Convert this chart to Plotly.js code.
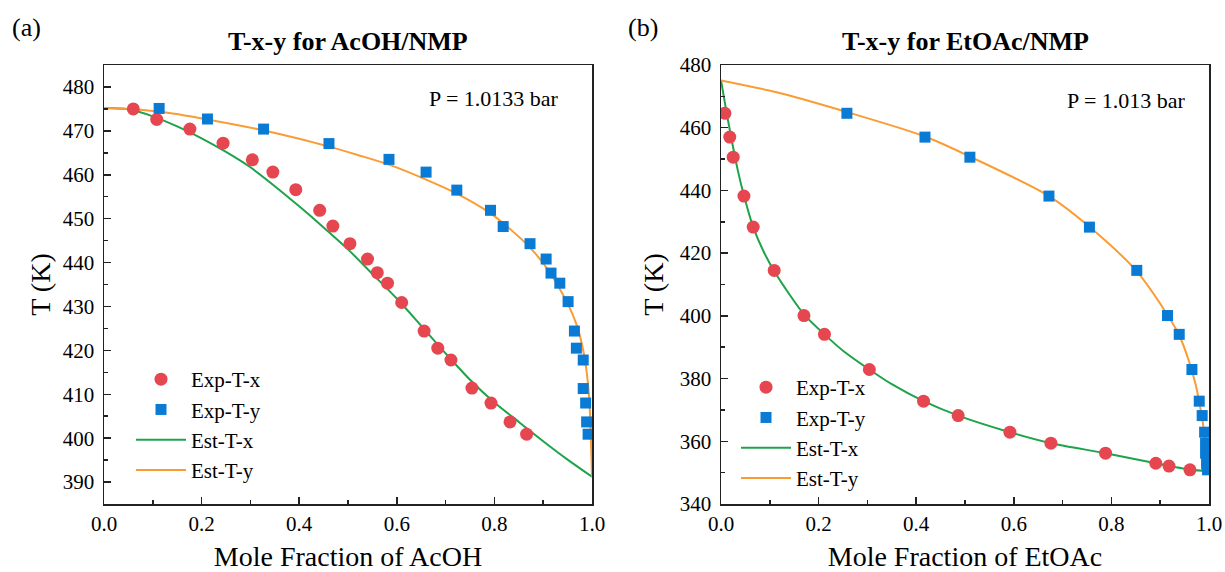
<!DOCTYPE html>
<html>
<head>
<meta charset="utf-8">
<script src="https://cdn.plot.ly/plotly-3.0.1.min.js"></script>
<style>html,body{margin:0;padding:0;background:#fff;}#chart{width:1225px;height:572px;}</style>
</head>
<body>
<div id="chart"></div>
<script>
// ---------- Data: panel (a) AcOH/NMP ----------
const a_expX_x = [0.060,0.108,0.176,0.244,0.304,0.346,0.393,0.442,0.469,0.504,0.540,0.560,0.581,0.610,0.656,0.684,0.711,0.754,0.793,0.832,0.866];
const a_expX_T = [475.0,472.6,470.4,467.2,463.4,460.6,456.6,451.9,448.3,444.3,440.8,437.7,435.3,430.9,424.4,420.5,417.8,411.4,408.0,403.7,400.9];
const a_expY_y = [0.113,0.212,0.327,0.461,0.584,0.660,0.723,0.792,0.818,0.873,0.906,0.916,0.934,0.951,0.964,0.968,0.982,0.982,0.987,0.989,0.992];
const a_expY_T = [475.1,472.7,470.4,467.1,463.5,460.6,456.5,451.9,448.2,444.3,440.8,437.6,435.3,431.1,424.4,420.5,417.8,411.3,408.0,403.7,400.9];
const a_estX_x = [0.00,0.05,0.10,0.15,0.20,0.25,0.30,0.35,0.40,0.45,0.50,0.55,0.60,0.65,0.70,0.75,0.80,0.85,0.90,0.95,1.00];
const a_estX_T = [475.2,474.9,473.3,471.0,468.3,465.2,461.7,457.4,452.8,448.0,443.0,437.4,431.8,425.6,419.3,413.3,408.1,403.7,399.3,395.1,391.2];
const a_estY_y = [0.000,0.050,0.113,0.212,0.327,0.400,0.461,0.520,0.584,0.660,0.723,0.792,0.825,0.873,0.907,0.934,0.955,0.972,0.986,0.994,1.000];
const a_estY_T = [475.2,475.0,474.4,472.6,470.1,468.2,466.4,464.5,462.3,458.9,455.7,451.2,448.3,443.4,438.8,434.0,429.5,424.6,417.5,409.5,391.2];

// ---------- Data: panel (b) EtOAc/NMP ----------
const b_expX_x = [0.008,0.018,0.025,0.047,0.066,0.109,0.170,0.212,0.304,0.415,0.486,0.592,0.676,0.788,0.891,0.918,0.961];
const b_exp_T  = [464.6,457.0,450.6,438.2,428.3,414.5,400.1,394.1,382.9,372.8,368.2,362.9,359.4,356.2,353.0,352.1,350.9];
const b_expY_y = [0.258,0.418,0.510,0.672,0.755,0.852,0.915,0.939,0.965,0.980,0.986,0.991,0.993,0.993,0.995,0.996,0.997];
const b_estX_x = [0.000,0.011,0.022,0.035,0.047,0.066,0.087,0.109,0.140,0.170,0.212,0.250,0.304,0.350,0.415,0.486,0.592,0.676,0.788,0.891,0.961,1.000];
const b_estX_T = [475.1,465.2,456.0,446.0,438.4,428.3,420.6,414.3,406.9,400.5,394.1,388.9,382.9,378.2,372.8,368.2,362.9,359.4,356.2,353.0,351.0,350.4];
const b_estY_y = [0.000,0.114,0.258,0.418,0.510,0.672,0.755,0.852,0.915,0.939,0.958,0.972,0.983,0.991,0.996,1.000];
const b_estY_T = [475.1,471.3,465.0,457.2,450.8,438.2,428.4,414.2,400.3,393.8,386.0,378.5,370.0,362.0,355.5,350.4];

const seriesNames = ['Exp-T-x','Exp-T-y','Est-T-x','Est-T-y'];
const xTickVals = [0,0.2,0.4,0.6,0.8,1.0];
const xTickText = ['0.0','0.2','0.4','0.6','0.8','1.0'];
const panelTitles = ['T-x-y for AcOH/NMP','T-x-y for EtOAc/NMP'];
const xTitles = ['Mole Fraction of AcOH','Mole Fraction of EtOAc'];
const pressureLabels = ['P = 1.0133 bar','P = 1.013 bar'];

// ---------- Styling ----------
const RED='#E6464F', BLUE='#0A7BD4', GREEN='#1FA34A', ORANGE='#FA9C33';
const FONT='"Liberation Serif", "Times New Roman", serif';
const W=1225,H=572, ML=104, MR=16, MT=65, MB=68;
const PW=W-ML-MR, PH=H-MT-MB;
const px=(p)=>(p-ML)/PW, py=(p)=>(H-MB-p)/PH;
const f=(s,extra)=>Object.assign({family:FONT,size:s,color:'#000'},extra||{});

function traces(xa, ya, leg, ex, eT, eyv, eyT, lx, lT, ly, lyT){
  return [
    {x:lx, y:lT, xaxis:xa, yaxis:ya, legend:leg, name:seriesNames[2], legendrank:3, mode:'lines', line:{color:GREEN,width:2,shape:'spline',smoothing:0.8}},
    {x:ly, y:lyT, xaxis:xa, yaxis:ya, legend:leg, name:seriesNames[3], legendrank:4, mode:'lines', line:{color:ORANGE,width:2,shape:'spline',smoothing:0.8}},
    {x:ex, y:eT, xaxis:xa, yaxis:ya, legend:leg, name:seriesNames[0], legendrank:1, mode:'markers', marker:{symbol:'circle',size:13,color:RED}},
    {x:eyv, y:eyT, xaxis:xa, yaxis:ya, legend:leg, name:seriesNames[1], legendrank:2, mode:'markers', marker:{symbol:'square',size:11,color:BLUE}}
  ];
}
const data = [].concat(
  traces('x','y','legend', a_expX_x,a_expX_T,a_expY_y,a_expY_T,a_estX_x,a_estX_T,a_estY_y,a_estY_T),
  traces('x2','y2','legend2', b_expX_x,b_exp_T,b_expY_y,b_exp_T,b_estX_x,b_estX_T,b_estY_y,b_estY_T)
);

function xax(domain, title, anchor){
  return {domain:domain, anchor:anchor, range:[0,1], tickvals:xTickVals, ticktext:xTickText,
    ticks:'inside', ticklen:7, tickwidth:1.5, tickcolor:'#222', ticklabelstandoff:0,
    minor:{ticks:'inside', ticklen:4, tickwidth:1.5, tickcolor:'#222', dtick:0.1, tick0:0},
    showline:true, linewidth:1.5, linecolor:'#222', mirror:true, showgrid:false, zeroline:false,
    tickfont:f(21), automargin:false,
    title:{text:title, font:f(28), standoff:14}};
}
function yax(range, dtick, mdtick, anchor, so){
  return {domain:[0,1], anchor:anchor, range:range, dtick:dtick, tick0:0,
    ticks:'inside', ticklen:7, tickwidth:1.5, tickcolor:'#222', ticklabelstandoff:4,
    minor:{ticks:'inside', ticklen:4, tickwidth:1.5, tickcolor:'#222', dtick:mdtick, tick0:0},
    showline:true, linewidth:1.5, linecolor:'#222', mirror:true, showgrid:false, zeroline:false,
    tickfont:f(21), automargin:false,
    title:{text:'T (K)', font:f(28), standoff:so}};
}
function ann(text, x, y, size, xanchor){
  return {text:text, xref:'paper', yref:'paper', x:px(x), y:py(y), xanchor:xanchor, yanchor:'middle', showarrow:false, font:f(size)};
}
const legendStyle = {xanchor:'left', yanchor:'top', bgcolor:'rgba(0,0,0,0)', borderwidth:0, font:f(21), itemwidth:50, tracegroupgap:0};

const layout = {
  width:W, height:H, margin:{l:ML,r:MR,t:MT,b:MB,pad:0},
  paper_bgcolor:'#fff', plot_bgcolor:'#fff',
  font:f(16),
  showlegend:true,
  xaxis: xax([0,px(592)], xTitles[0], 'y'),
  yaxis: yax([385,485],10,5,'x',4),
  xaxis2: xax([px(721),1], xTitles[1], 'y2'),
  yaxis2: yax([340,480],20,10,'x2',8),
  legend: Object.assign({x:px(131), y:py(359)}, legendStyle),
  legend2: Object.assign({x:px(736), y:py(367)}, legendStyle),
  annotations:[
    ann('(a)', 10, 28, 26, 'left'),
    ann('(b)', 626, 28, 26, 'left'),
    ann('<b>'+panelTitles[0]+'</b>', 348, 41, 26, 'center'),
    ann('<b>'+panelTitles[1]+'</b>', 965, 41, 26, 'center'),
    ann(pressureLabels[0], 561, 98, 22, 'right'),
    ann(pressureLabels[1], 1188, 100, 22, 'right')
  ]
};

Plotly.newPlot('chart', data, layout, {staticPlot:true, displayModeBar:false});
</script>
</body>
</html>
